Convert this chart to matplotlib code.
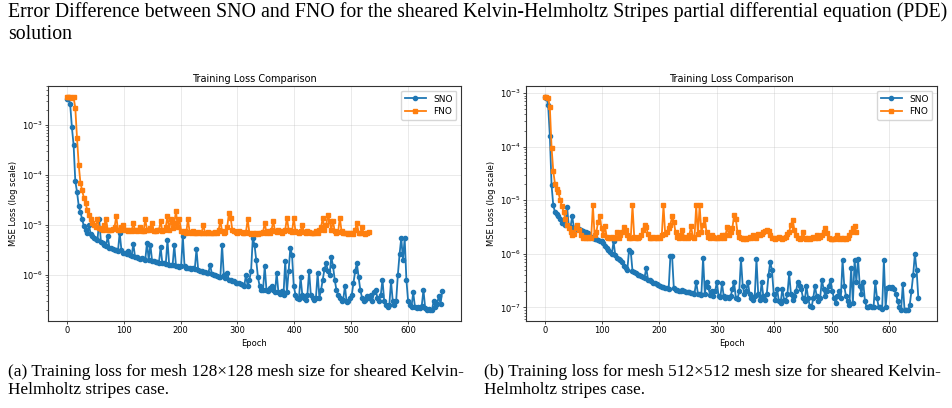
import numpy as np
import matplotlib
matplotlib.use("Agg")
import matplotlib.pyplot as plt

EPOCH_STEP = 3

sno_128 = [
    3.3e-3, 3.4e-3, 2.6e-3, 9e-4, 4e-4, 7.5e-5, 4.6e-5, 2.4e-5, 1.8e-5, 1.3e-5,
    9.5e-6, 7.8e-6, 7e-6, 1e-5, 6.5e-6, 6e-6, 5.6e-6, 5.2e-6, 5e-6, 1.3e-5,
    4.6e-6, 4.3e-6, 4e-6, 3.8e-6, 6e-6, 3.5e-6, 3.4e-6, 3.3e-6, 3.2e-6, 3.1e-6,
    3e-6, 7e-6, 3.2e-6, 2.8e-6, 2.7e-6, 2.6e-6, 3e-6, 2.5e-6, 2.4e-6, 4.2e-6,
    2.3e-6, 2.3e-6, 2.2e-6, 2.1e-6, 2.2e-6, 2.1e-6, 2e-6, 4.4e-6, 2e-6, 4e-6,
    1.9e-6, 1.9e-6, 1.8e-6, 1.8e-6, 1.75e-6, 3.6e-6, 1.7e-6, 1.7e-6, 1.65e-6, 5e-6,
    1.6e-6, 1.6e-6, 1.55e-6, 4e-6, 1.5e-6, 1.5e-6, 1.45e-6, 1.5e-6, 6e-6, 1.5e-6,
    1.4e-6, 1.4e-6, 1.35e-6, 1.3e-6, 1.35e-6, 1.3e-6, 3.3e-6, 1.25e-6, 1.2e-6, 1.2e-6,
    1.15e-6, 1.15e-6, 1.1e-6, 1.1e-6, 1.6e-6, 1.05e-6, 1e-6, 1e-6, 9.5e-7, 9e-7,
    9e-7, 4e-6, 1e-6, 8.5e-7, 1.1e-6, 8e-7, 7.8e-7, 7.5e-7, 7.5e-7, 7e-7,
    7e-7, 6.8e-7, 6.5e-7, 6.2e-7, 6e-7, 1e-6, 6e-7, 8e-7, 1.2e-6, 5.5e-6,
    4e-6, 2e-6, 9e-7, 6e-7, 5e-7, 5e-7, 1.5e-6, 5e-7, 4.8e-7, 5.5e-7,
    6e-7, 5e-7, 4.5e-7, 1.1e-6, 4.5e-7, 4.2e-7, 4.8e-7, 4e-7, 1.9e-6, 4.5e-7,
    1.2e-6, 3.5e-6, 2.5e-6, 6e-7, 4e-7, 3.5e-7, 3.3e-7, 9e-7, 4e-7, 3.5e-7,
    3.2e-7, 4e-7, 1.2e-6, 4e-7, 3.5e-7, 3.2e-7, 3.5e-7, 1.1e-6, 3.5e-7, 5e-7,
    8e-7, 1.3e-6, 1.7e-6, 1.2e-6, 1e-6, 2.3e-6, 1.5e-6, 8e-7, 5e-7, 4e-7,
    3.5e-7, 3e-7, 3.2e-7, 6e-7, 2.8e-7, 3e-7, 3.5e-7, 4e-7, 7e-7, 1.2e-6,
    1.7e-6, 9e-7, 5e-7, 3.5e-7, 3e-7, 3.2e-7, 3.8e-7, 3.5e-7, 4e-7, 3e-7,
    4.5e-7, 5e-7, 3.5e-7, 3e-7, 4e-7, 8e-7, 3e-7, 2.5e-7, 2.3e-7, 2.5e-7,
    7.5e-7, 3e-7, 2.5e-7, 3e-7, 1e-6, 2.6e-6, 5.5e-6, 2e-6, 5.5e-6, 8e-7,
    3e-7, 2.5e-7, 2.3e-7, 4.5e-7, 2.3e-7, 2.2e-7, 2.3e-7, 2.2e-7, 2.4e-7, 5e-7,
    2.2e-7, 2e-7, 2.1e-7, 1.95e-7, 2e-7, 3e-7, 2.3e-7, 2.6e-7, 3.8e-7, 2.6e-7,
    4.7e-7,
]

fno_128 = [
    3.7e-3, 3.6e-3, 3.7e-3, 3.5e-3, 3.6e-3, 2.2e-3, 5.5e-4, 1.6e-4, 7e-5, 5e-5,
    3.5e-5, 2.7e-5, 2e-5, 1.6e-5, 1.3e-5, 1.1e-5, 1e-5, 9e-6, 1.3e-5, 8.5e-6,
    8.3e-6, 8e-6, 1e-5, 1.3e-5, 8e-6, 7.8e-6, 8e-6, 8.2e-6, 9e-6, 1.5e-5,
    8e-6, 7.8e-6, 9e-6, 1e-5, 8e-6, 7.8e-6, 7.5e-6, 8e-6, 7.6e-6, 1.1e-5,
    7.8e-6, 7.5e-6, 8e-6, 9e-6, 7.6e-6, 7.5e-6, 1.3e-5, 8e-6, 7.8e-6, 8.5e-6,
    1.1e-5, 7.6e-6, 7.5e-6, 8e-6, 7.8e-6, 1.2e-5, 7.5e-6, 8e-6, 9e-6, 1.5e-5,
    8e-6, 1.3e-5, 8.5e-6, 1.1e-5, 1.9e-5, 9e-6, 1.3e-5, 7.5e-6, 7.2e-6, 7.5e-6,
    7e-6, 1.3e-5, 7.2e-6, 7e-6, 7.5e-6, 6.8e-6, 7e-6, 7.2e-6, 6.8e-6, 7e-6,
    1e-5, 7e-6, 6.8e-6, 7.2e-6, 7e-6, 6.8e-6, 7e-6, 7.3e-6, 7e-6, 8e-6,
    1.2e-5, 7.5e-6, 7e-6, 7.2e-6, 9e-6, 1.7e-5, 1.4e-5, 8e-6, 7.5e-6, 7.2e-6,
    7e-6, 7.5e-6, 7.2e-6, 6.8e-6, 7e-6, 7.2e-6, 1.3e-5, 7e-6, 6.5e-6, 6.8e-6,
    6.5e-6, 6.8e-6, 6.5e-6, 7e-6, 6.8e-6, 7.2e-6, 1.1e-5, 7e-6, 7.5e-6, 7e-6,
    8e-6, 1.2e-5, 7.5e-6, 7.2e-6, 8e-6, 7.5e-6, 7e-6, 7.5e-6, 8e-6, 1.4e-5,
    8e-6, 7.5e-6, 7.2e-6, 1.4e-5, 7.5e-6, 7.2e-6, 7e-6, 7.5e-6, 1e-5, 7.2e-6,
    7e-6, 7.5e-6, 7.2e-6, 7e-6, 6.8e-6, 7e-6, 7.5e-6, 7e-6, 8e-6, 9e-6,
    1.4e-5, 8e-6, 1e-5, 1.6e-5, 1.2e-5, 8e-6, 1.2e-5, 7.5e-6, 7e-6, 7.2e-6,
    1.4e-5, 7.5e-6, 7e-6, 6.8e-6, 7e-6, 6.5e-6, 6.8e-6, 7e-6, 6.5e-6, 8e-6,
    1.1e-5, 7e-6, 6.8e-6, 9e-6, 6.8e-6, 6.5e-6, 7e-6, 7.3e-6,
]

sno_512 = [
    8.5e-4, 8.3e-4, 6e-4, 1.6e-4, 1.9e-5, 8e-6, 6e-6, 5.5e-6, 5e-6, 4.5e-6,
    3.8e-6, 4e-6, 3.5e-6, 7.5e-6, 3.3e-6, 3.2e-6, 5e-6, 3e-6, 3e-6, 2.9e-6,
    2.9e-6, 2.8e-6, 2.7e-6, 2.6e-6, 2.5e-6, 2.4e-6, 2.2e-6, 2.1e-6, 2e-6, 1.9e-6,
    1.9e-6, 1.8e-6, 1.75e-6, 1.7e-6, 1.6e-6, 1.4e-6, 1.3e-6, 1.2e-6, 1.1e-6, 1e-6,
    1.7e-6, 9.5e-7, 8.5e-7, 8e-7, 7.5e-7, 7e-7, 6e-7, 5.5e-7, 5e-7, 1.2e-6,
    1.1e-6, 4.8e-7, 4.5e-7, 4.3e-7, 4.1e-7, 4e-7, 3.8e-7, 3.7e-7, 3.6e-7, 5.5e-7,
    3.3e-7, 3.2e-7, 3.1e-7, 2.9e-7, 2.8e-7, 2.7e-7, 2.6e-7, 2.5e-7, 2.4e-7, 2.35e-7,
    2.3e-7, 2.25e-7, 2.2e-7, 9e-7, 9e-7, 2.3e-7, 2.1e-7, 2.1e-7, 2.05e-7, 2e-7,
    2.1e-7, 2e-7, 1.95e-7, 1.9e-7, 1.9e-7, 1.85e-7, 1.85e-7, 1.8e-7, 3e-7, 1.8e-7,
    1.75e-7, 1.7e-7, 8.5e-7, 1.8e-7, 3e-7, 2.4e-7, 1.7e-7, 2e-7, 1.6e-7, 2e-7,
    3e-7, 1.6e-7, 1.55e-7, 2.8e-7, 1.6e-7, 1.5e-7, 1.55e-7, 1.5e-7, 1.6e-7, 2.2e-7,
    3e-7, 1.5e-7, 1.45e-7, 2e-7, 8e-7, 2.5e-7, 1.8e-7, 2e-7, 3e-7, 1.8e-7,
    1.5e-7, 1.4e-7, 1.6e-7, 8e-7, 1.8e-7, 1.4e-7, 3e-7, 1.6e-7, 1.4e-7, 1.8e-7,
    4e-7, 7e-7, 5e-7, 1.8e-7, 1.4e-7, 2.2e-7, 1.3e-7, 1.2e-7, 2.2e-7, 1.4e-7,
    1.3e-7, 1.8e-7, 4.3e-7, 1.8e-7, 1.4e-7, 1.6e-7, 2e-7, 3e-7, 2.5e-7, 2.2e-7,
    1.5e-7, 1.3e-7, 2.5e-7, 1.5e-7, 1.05e-7, 1e-7, 1.5e-7, 2.5e-7, 1.6e-7, 1.3e-7,
    1.5e-7, 3.3e-7, 2.2e-7, 1.6e-7, 2e-7, 2.5e-7, 3.3e-7, 2e-7, 1.5e-7, 1.2e-7,
    1.6e-7, 2e-7, 1.5e-7, 7.7e-7, 2.5e-7, 1.6e-7, 1.3e-7, 1.1e-7, 5.5e-7, 1.2e-7,
    7.7e-7, 3e-7, 8e-7, 2.5e-7, 1.8e-7, 3e-7, 1.3e-7, 1e-7, 1e-7, 1.05e-7,
    1e-7, 1e-7, 3e-7, 1.5e-7, 1e-7, 1e-7, 9.5e-8, 7.7e-7, 1e-7, 2.3e-7,
    2.4e-7, 2.3e-7, 2.4e-7, 2.2e-7, 1.8e-7, 1.3e-7, 1e-7, 9e-8, 2.7e-7, 9e-8,
    8.8e-8, 9e-8, 1.1e-7, 2e-7, 4e-7, 1e-6, 5e-7, 1.5e-7,
]

fno_512 = [
    8.6e-4, 8.5e-4, 8.2e-4, 5.5e-4, 9.6e-5, 3.5e-5, 2e-5, 1.6e-5, 1.4e-5, 1e-5,
    7.8e-6, 6e-6, 4.5e-6, 3.5e-6, 3e-6, 2.5e-6, 2.2e-6, 2.3e-6, 3e-6, 3.5e-6,
    2.8e-6, 2.2e-6, 2e-6, 2.1e-6, 2e-6, 2e-6, 2.1e-6, 2e-6, 8e-6, 2.2e-6,
    2.5e-6, 4e-6, 5e-6, 3e-6, 2.2e-6, 3.3e-6, 2.1e-6, 2e-6, 2e-6, 2.1e-6,
    2e-6, 2e-6, 2.5e-6, 2e-6, 2.2e-6, 2.6e-6, 3.2e-6, 2.8e-6, 2.2e-6, 2e-6,
    2e-6, 8e-6, 2.1e-6, 2e-6, 2e-6, 2.1e-6, 2.2e-6, 2.8e-6, 3.5e-6, 3.2e-6,
    2.3e-6, 2e-6, 2e-6, 2.1e-6, 2e-6, 2e-6, 2.1e-6, 2e-6, 2.2e-6, 8e-6,
    2.3e-6, 2.5e-6, 3e-6, 3.5e-6, 5e-6, 4e-6, 2.5e-6, 2.1e-6, 2e-6, 2.2e-6,
    2.8e-6, 2e-6, 2.1e-6, 2e-6, 2.2e-6, 3.3e-6, 2.1e-6, 2e-6, 8e-6, 2.3e-6,
    8e-6, 2.5e-6, 3.5e-6, 4.5e-6, 2.5e-6, 2.1e-6, 2e-6, 2.2e-6, 2.1e-6, 2e-6,
    2e-6, 2.1e-6, 2e-6, 2.2e-6, 2e-6, 2.2e-6, 3.2e-6, 2.2e-6, 2.5e-6, 3e-6,
    5.3e-6, 4.5e-6, 2.5e-6, 2.1e-6, 2e-6, 1.9e-6, 2e-6, 1.9e-6, 2e-6, 2.1e-6,
    2e-6, 2.2e-6, 2.1e-6, 2e-6, 2.3e-6, 2.2e-6, 2.3e-6, 2.5e-6, 2.7e-6, 2.8e-6,
    2.7e-6, 2.2e-6, 2e-6, 2e-6, 1.9e-6, 2e-6, 2.1e-6, 2e-6, 1.9e-6, 2e-6,
    2.1e-6, 2.3e-6, 2.6e-6, 3.5e-6, 4.2e-6, 2.8e-6, 2.2e-6, 2e-6, 1.9e-6, 2e-6,
    2.5e-6, 2e-6, 1.9e-6, 2e-6, 1.9e-6, 2e-6, 2.1e-6, 2e-6, 2.2e-6, 2e-6,
    2.1e-6, 2.2e-6, 2.6e-6, 3e-6, 2.4e-6, 2e-6, 1.9e-6, 1.9e-6, 1.9e-6, 2e-6,
    2.2e-6, 1.9e-6, 2e-6, 1.9e-6, 2e-6, 1.9e-6, 2e-6, 2.2e-6, 2.5e-6, 3e-6,
    3.3e-6, 2.5e-6,
]

x_ticks = [0, 100, 200, 300, 400, 500, 600]

fig_title = ("Error Difference between SNO and FNO for the sheared Kelvin-Helmholtz "
             "Stripes partial differential equation (PDE)\nsolution")
caption_a = ("(a) Training loss for mesh 128\u00d7128 mesh size for sheared Kelvin-\n"
             "Helmholtz stripes case.")
caption_b = ("(b) Training loss for mesh 512\u00d7512 mesh size for sheared Kelvin-\n"
             "Helmholtz stripes case.")

SMALL = 6.0
LW = 1.3
MS = 3.0


def draw_panel(ax, sno, fno):
    epochs_sno = np.arange(len(sno)) * EPOCH_STEP
    epochs_fno = np.arange(len(fno)) * EPOCH_STEP
    ax.plot(epochs_sno, sno, marker="o", color="#1f77b4", lw=LW, ms=MS, label="SNO")
    ax.plot(epochs_fno, fno, marker="s", color="#ff7f0e", lw=LW, ms=MS, label="FNO")
    ax.set_yscale("log")
    ax.set_xticks(x_ticks)
    ax.set_title("Training Loss Comparison", fontsize=7.0, pad=3)
    ax.set_xlabel("Epoch", fontsize=SMALL, labelpad=3)
    ax.set_ylabel("MSE Loss (log scale)", fontsize=SMALL, labelpad=3)
    ax.tick_params(labelsize=SMALL, length=2, width=0.5, pad=1.5)
    ax.tick_params(which="minor", length=1.2, width=0.4)
    ax.grid(True, which="major", alpha=0.3, lw=0.6)
    for sp in ax.spines.values():
        sp.set_linewidth(0.8)
        sp.set_color("#333333")
    ax.legend(loc="upper right", fontsize=6.5, handlelength=2.3,
              borderpad=0.45, labelspacing=0.35, framealpha=0.8)


fig = plt.figure(figsize=(9.52, 4.08), dpi=100)
ax_a = fig.add_axes([48 / 952, 1 - 321 / 408, 413 / 952, 235 / 408])
ax_b = fig.add_axes([526 / 952, 1 - 321 / 408, 411 / 952, 235 / 408])

draw_panel(ax_a, sno_128, fno_128)
draw_panel(ax_b, sno_512, fno_512)

serif = ["Liberation Serif", "DejaVu Serif"]
fig.text(8 / 952, 1 - 2 / 408, fig_title, family=serif, fontsize=14.3,
         va="top", ha="left", linespacing=1.2)
fig.text(8 / 952, 1 - 364 / 408, caption_a, family=serif, fontsize=12.4,
         va="top", ha="left", linespacing=1.2)
fig.text(484 / 952, 1 - 364 / 408, caption_b, family=serif, fontsize=12.4,
         va="top", ha="left", linespacing=1.2)

fig.savefig("out.png", dpi=100)
